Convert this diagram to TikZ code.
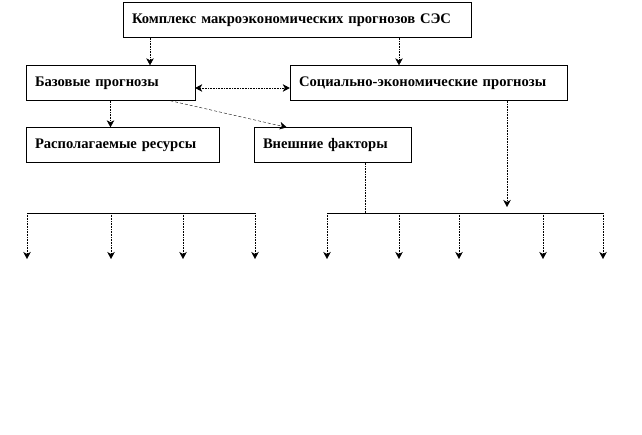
\documentclass[tikz,border=0pt]{standalone}
\usepackage{fontspec}
\setmainfont{Liberation Serif}
\usetikzlibrary{arrows.meta, calc}

\begin{document}
\begin{tikzpicture}[
    x=1pt, y=-1pt,
    box/.style={draw=black, thin, inner xsep=9pt, inner ysep=0pt, align=left,
                minimum height=35pt, font=\fontsize{14.6}{16}\selectfont\bfseries},
    tip/.tip={Stealth[length=7pt, width=7.5pt, inset=2pt]},
    arr/.style={-tip, densely dotted, semithick, black},
    bus/.style={black, semithick}
]
\useasboundingbox (0,0) rectangle (642,434);
% boxes
\node[box, text width=330pt] (top) at (297,20)  {Комплекс макроэкономических прогнозов СЭС};
\node[box, text width=151pt] (base) at (110.5,83) {Базовые прогнозы};
\node[box, text width=259pt] (soc) at (428.5,83) {Социально-экономические прогнозы};
\node[box, text width=175pt] (res) at (122.5,145) {Располагаемые ресурсы};
\node[box, text width=139pt] (ext) at (332.5,145) {Внешние факторы};
% links between boxes
\coordinate (cA) at (150,0);
\coordinate (cB) at (399,0);
\draw[arr] (cA |- top.south) -- (cA |- base.north);
\draw[arr] (cB |- top.south) -- (cB |- soc.north);
\draw[arr, tip-tip] ([yshift=-5pt]base.east) -- ([yshift=-5pt]soc.west);
\draw[arr, densely dashed, thin] ($(base.south east)+(-25,0)$) -- ($(ext.north west)+(33,0)$);
\draw[arr] (base.south) -- (base.south |- res.north);
% buses
\coordinate (bL) at (27,213);
\coordinate (bLe) at (255,213);
\coordinate (bR) at (327,213);
\coordinate (bRe) at (603,213);
\coordinate (cE) at (365,0);
\coordinate (cS) at (507,207);
\draw[bus] (bL) -- (bLe);
\draw[bus] (bR) -- (bRe);
\draw[densely dotted, semithick] (cE |- ext.south) -- (cE |- bR);
\draw[arr] (cS |- soc.south) -- (cS);
\foreach \x in {27,111,183,255,327,399,459,543,603}
  \draw[arr] (\x,213) -- (\x,259);
\end{tikzpicture}
\end{document}
